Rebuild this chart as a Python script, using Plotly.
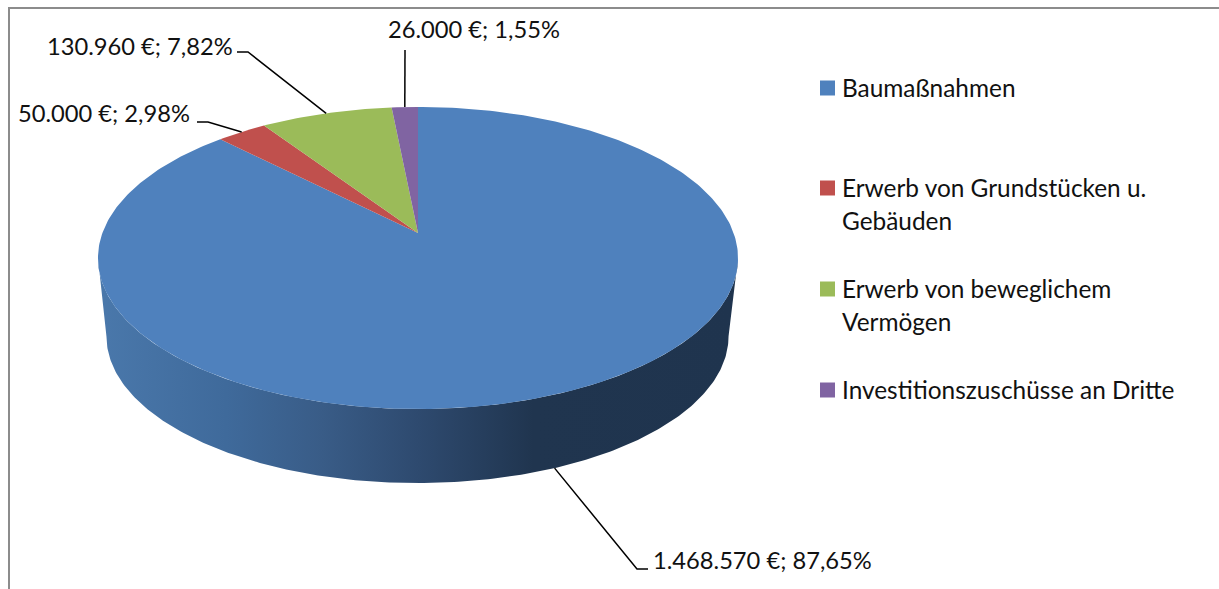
import numpy as np
import plotly.graph_objects as go

# Data
categories = ["Baumaßnahmen", "Erwerb von Grundstücken u. Gebäuden",
              "Erwerb von beweglichem Vermögen", "Investitionszuschüsse an Dritte"]
values = [1468570, 50000, 130960, 26000]
value_labels = ["1.468.570 €; 87,65%", "50.000 €; 2,98%", "130.960 €; 7,82%", "26.000 €; 1,55%"]
colors = ["#4f81bd", "#c0504d", "#9bbb59", "#8064a2"]
legend_lines = [["Baumaßnahmen"], ["Erwerb von Grundstücken u.", "Gebäuden"],
                ["Erwerb von beweglichem", "Vermögen"], ["Investitionszuschüsse an Dritte"]]

# Layout / projection parameters (px)
W, H = 1219, 589
FONT = "Lato"
FS_LEGEND = 24.4
FS_LABEL = 23.7
TXT = "#111111"
CX, APEX_Y, A, B, K = 418, 233, 146.9, 315.6, 0.1656
LOW_S, LOW_CX, LOW_Y = 0.972, 417.5, 312


def proj(theta, scale=1.0, cx=CX, cy=APEX_Y):
    """Clockwise angle from top of the pie -> tilted, perspective view."""
    u, v = np.sin(theta), np.cos(theta)
    w = 1 + K * v
    return cx + scale * B * u / w, cy - scale * A * v / w


fractions = np.array(values) / sum(values)
edges = np.concatenate([[0], np.cumsum(fractions)]) * 2 * np.pi

fig = go.Figure()

# Side wall (only the front half, between the two silhouette points)
t_side = np.arcsin(-K)
front = np.linspace(np.pi / 2 - t_side, 3 * np.pi / 2 + t_side, 240)
tx, ty = proj(front)
bx, by = proj(front[::-1], LOW_S, LOW_CX, LOW_Y)
fig.add_trace(go.Scatter(
    x=np.concatenate([tx, bx]), y=np.concatenate([ty, by]),
    mode="lines", line=dict(width=0), fill="toself",
    fillgradient=dict(type="horizontal", start=98, stop=738, colorscale=[
        [0.0, "#4a78ab"], [0.2, "#3f6a9b"], [0.35, "#395c87"], [0.5, "#2e4a6f"],
        [0.68, "#20354f"], [1.0, "#1f344e"]]),
    hoverinfo="skip", showlegend=False))

# Top face
for i, name in enumerate(categories):
    t = np.linspace(edges[i], edges[i + 1], max(4, int(400 * fractions[i])))
    x, y = proj(t)
    fig.add_trace(go.Scatter(
        x=np.concatenate([[CX], x, [CX]]), y=np.concatenate([[APEX_Y], y, [APEX_Y]]),
        mode="lines", line=dict(width=0), fill="toself", fillcolor=colors[i],
        name=name, hoverinfo="name", showlegend=False))

# Leader lines: slice mid-angle -> elbow -> label
mids = (edges[:-1] + edges[1:]) / 2
elbows = [[(637, 569), (648, 569)], [(208, 122), (197, 122)], [(248, 52), (237, 52)], [(405, 50)]]
for i in range(4):
    if i == 0:
        ax, ay = proj(mids[i], LOW_S, LOW_CX, LOW_Y)
    else:
        ax, ay = proj(mids[i])
    xs = [ax] + [p[0] for p in elbows[i]]
    ys = [ay] + [p[1] for p in elbows[i]]
    fig.add_trace(go.Scatter(x=xs, y=ys, mode="lines", line=dict(color="#000000", width=1.5),
                             hoverinfo="skip", showlegend=False))

# Legend swatches
swatch_y = [88, 188, 289, 390]
fig.add_trace(go.Scatter(x=[827.5] * 4, y=swatch_y, mode="markers",
                         marker=dict(symbol="square", size=15, color=colors, line=dict(width=0)),
                         hoverinfo="skip", showlegend=False))

annotations = []
for lines, y0 in zip(legend_lines, swatch_y):
    for j, line in enumerate(lines):
        annotations.append(dict(x=840, y=y0 - 1 + j * 33.5, text=line, xanchor="left", yanchor="middle",
                                showarrow=False, font=dict(family=FONT, size=FS_LEGEND, color=TXT)))

label_pos = [(651, 560), (16, 113), (45, 46), (386, 29)]
for text, (x, y) in zip(value_labels, label_pos):
    annotations.append(dict(x=x, y=y, text=text, xanchor="left", yanchor="middle",
                            showarrow=False, font=dict(family=FONT, size=FS_LABEL, color=TXT)))

shapes = [
    dict(type="line", x0=9, x1=9, y0=8, y1=H, line=dict(color="#8c8c8c", width=2)),
    dict(type="line", x0=8, x1=W, y0=8, y1=8, line=dict(color="#8c8c8c", width=2)),
]

fig.update_layout(
    width=W, height=H, margin=dict(l=0, r=0, t=0, b=0),
    paper_bgcolor="white", plot_bgcolor="white", showlegend=False,
    xaxis=dict(range=[0, W], visible=False, fixedrange=True),
    yaxis=dict(range=[H, 0], visible=False, fixedrange=True),
    annotations=annotations, shapes=shapes,
)
fig.write_html("out.html", config=dict(displayModeBar=False),
               post_script="document.body.style.margin='0';document.body.style.overflow='hidden';")
